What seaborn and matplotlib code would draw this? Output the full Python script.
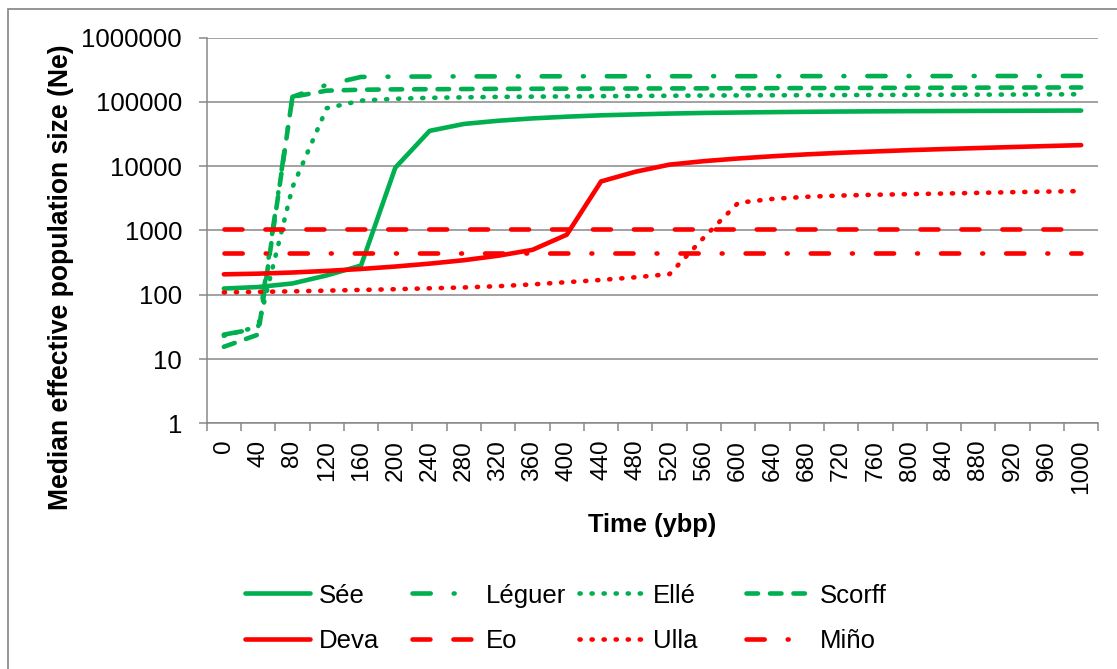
import numpy as np
import pandas as pd
import matplotlib
matplotlib.use("Agg")
import matplotlib.pyplot as plt
from matplotlib.lines import Line2D
from matplotlib.patches import Rectangle
from matplotlib.ticker import FixedLocator, FuncFormatter, NullLocator
import seaborn as sns

# Time steps (years before present) and median Ne for each river population
times = list(range(0, 1001, 40))

see = [125, 132, 150, 200, 285, 9500, 35500, 45500, 51000, 55500, 59000, 62000, 64000,
       66000, 67500, 68500, 69500, 70300, 71000, 71500, 72000, 72300, 72600, 72900, 73200, 73500]
leguer = [24, 30, 120000, 185000, 245000, 248000, 249000, 250000, 250000, 250500, 251000, 251000,
          251500, 251500, 252000, 252000, 252000, 252500, 252500, 253000, 253000, 253000, 253500,
          253500, 254000, 254000]
elle = [23, 32, 4700, 80000, 105000, 112000, 116000, 118000, 120000, 121000, 122000, 123000, 124000,
        125000, 126000, 126500, 127000, 127500, 128000, 128500, 129000, 129500, 130000, 130500,
        131000, 132000]
scorff = [15.5, 24, 120000, 150000, 155000, 157000, 158000, 159000, 160000, 160500, 161000, 161500,
          162000, 162500, 163000, 163500, 164000, 164500, 165000, 165500, 166000, 166500, 167000,
          167500, 168000, 168000]
deva = [208, 213, 222, 235, 252, 275, 305, 345, 405, 500, 860, 5800, 8200, 10600, 12000, 13200,
        14300, 15300, 16200, 17000, 17800, 18500, 19200, 19900, 20600, 21300]
eo = [1070] * len(times)
ulla = [109, 111, 113, 116, 119, 122, 126, 130, 136, 145, 157, 170, 187, 210, 780, 2700, 3100,
        3350, 3500, 3600, 3680, 3760, 3850, 3950, 4030, 4100]
mino = [440] * len(times)

populations = ["Sée", "Léguer", "Ellé", "Scorff", "Deva", "Eo", "Ulla", "Miño"]
series = [see, leguer, elle, scorff, deva, eo, ulla, mino]
y_ticks = [1, 10, 100, 1000, 10000, 100000, 1000000]

GREEN = "#00B050"
RED = "#FF0000"
GRAY = "#868686"

colors = {"Sée": GREEN, "Léguer": GREEN, "Ellé": GREEN, "Scorff": GREEN,
          "Deva": RED, "Eo": RED, "Ulla": RED, "Miño": RED}
# dash patterns in units of line width (drawn with round caps)
long_dash_dot = (3.96, 5.0, 0.2, 5.0)
round_dot = (0.25, 2.37)
dash = (2.5, 2.6)
long_dash = (3.9, 5.0)
dash_styles = {"Sée": "", "Léguer": long_dash_dot, "Ellé": round_dot, "Scorff": dash,
               "Deva": "", "Eo": long_dash, "Ulla": round_dot, "Miño": long_dash_dot}

W, H, DPI = 1117, 669, 100


def fx(px):
    return px / W


def fy(py):
    return 1 - py / H


def pt(px):
    return px * 72 / DPI


sns.set_style("white")
plt.rcParams["font.family"] = ["Liberation Sans", "DejaVu Sans"]
plt.rcParams["text.color"] = "black"
plt.rcParams["xtick.color"] = GRAY
plt.rcParams["ytick.color"] = GRAY
plt.rcParams["xtick.labelcolor"] = "black"
plt.rcParams["ytick.labelcolor"] = "black"

LW = pt(4.6)

fig = plt.figure(figsize=(W / DPI, H / DPI), dpi=DPI)
ax = fig.add_axes([fx(206.7), fy(423.3), (1098.3 - 206.7) / W, (423.3 - 37.7) / H])

df = pd.DataFrame({
    "step": np.tile(np.arange(len(times)), len(populations)),
    "Ne": np.concatenate([np.asarray(s, dtype=float) for s in series]),
    "population": np.repeat(populations, len(times)),
})

sns.lineplot(data=df, x="step", y="Ne", hue="population", style="population",
             hue_order=populations, style_order=populations, palette=colors,
             dashes=dash_styles, linewidth=LW, estimator=None, sort=False,
             legend=False, ax=ax)

for line in ax.get_lines():
    line.set_dash_capstyle("round")
    line.set_solid_capstyle("round")
    line.set_dash_joinstyle("round")
    line.set_solid_joinstyle("round")

ax.set_yscale("log")
ax.set_ylim(1, 1e6)
ax.yaxis.set_major_locator(FixedLocator(y_ticks))
ax.yaxis.set_minor_locator(NullLocator())
ax.yaxis.set_major_formatter(FuncFormatter(lambda v, _: f"{int(round(v))}"))

ax.set_xlim(-0.5, len(times) - 0.5)
ax.set_xticks(np.arange(len(times)))
ax.set_xticklabels([str(t) for t in times], rotation=90)
ax.set_xticks(np.arange(-0.5, len(times)), minor=True)

ax.tick_params(axis="x", which="major", bottom=True, length=0, pad=pt(16.5),
               labelsize=pt(24.4))
ax.tick_params(axis="x", which="minor", bottom=True, length=pt(8), width=pt(1.5),
               color=GRAY, direction="out")
ax.tick_params(axis="y", which="major", left=True, length=pt(8), width=pt(1.5),
               color=GRAY, direction="out", pad=pt(16.6), labelsize=pt(25.7))

ax.grid(axis="y", which="major", color=GRAY, linewidth=pt(1.5))
ax.grid(axis="x", visible=False)
ax.set_axisbelow(True)
for side in ("top", "right"):
    ax.spines[side].set_visible(False)
for side in ("left", "bottom"):
    ax.spines[side].set_color(GRAY)
    ax.spines[side].set_linewidth(pt(1.5))
ax.set_xlabel("")
ax.set_ylabel("")

fig.text(fx(652.5), fy(532), "Time (ybp)", ha="center", va="baseline",
         fontsize=pt(25.5), fontweight="bold")
fig.text(fx(61.5), fy(277.5), "Median effective population size (Ne)", rotation=90,
         ha="center", va="center", fontsize=pt(26.5), fontweight="bold")

# legend: two rows of four entries
for i, pop in enumerate(populations):
    r, c = divmod(i, 4)
    x0 = 242.3 + 167 * c
    y = 593.3 + 45.7 * r
    style = dash_styles[pop]
    ls = "-" if style == "" else (0, style)
    handle = Line2D([fx(x0 + 2.25), fx(x0 + 70 - 2.25)], [fy(y), fy(y)],
                    transform=fig.transFigure, color=colors[pop], linewidth=LW,
                    linestyle=ls, dash_capstyle="round", solid_capstyle="round")
    fig.add_artist(handle)
    fig.text(fx(x0 + 76.7), fy(y), pop, ha="left", va="center_baseline",
             fontsize=pt(25.7))

# chart area frame
fig.add_artist(Rectangle((fx(8.3), -0.1), 1.2, fy(9) + 0.1, transform=fig.transFigure,
                         fill=False, edgecolor=GRAY, linewidth=pt(1.7)))

fig.savefig("out.png", dpi=DPI)
